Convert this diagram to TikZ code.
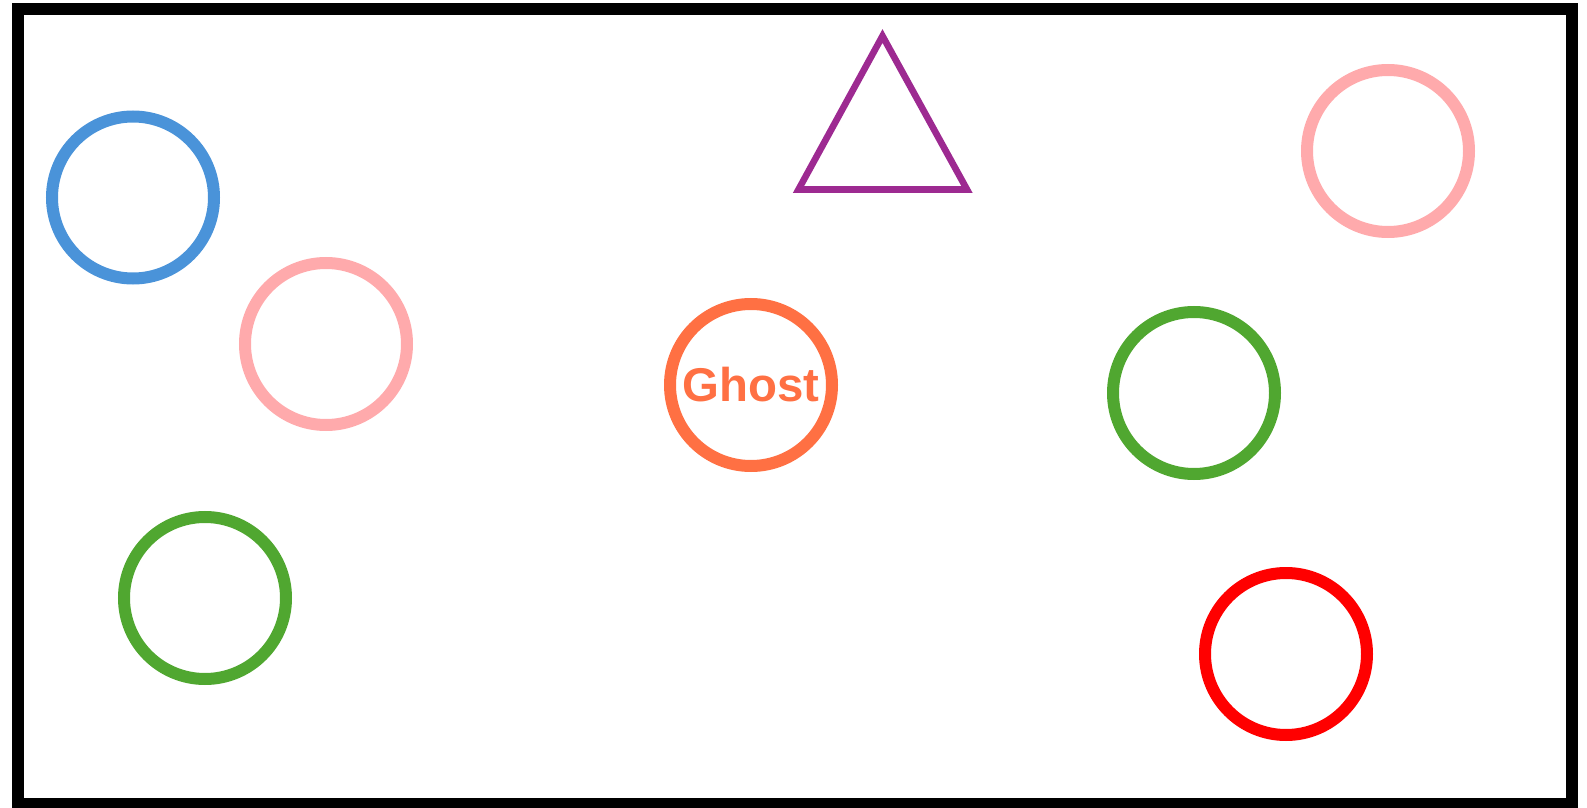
\documentclass[tikz,border=0pt]{standalone}
\usepackage{fontspec}
\setmainfont{Liberation Sans}
\definecolor{ringblue}{RGB}{74,147,217}
\definecolor{ringpink}{RGB}{255,170,172}
\definecolor{ringgreen}{RGB}{80,167,48}
\definecolor{ringred}{RGB}{255,0,0}
\definecolor{ghostorange}{RGB}{255,112,67}
\definecolor{triviolet}{RGB}{157,42,145}
\begin{document}
\begin{tikzpicture}[x=0.5pt, y=-0.5pt,
  ring/.style={draw=#1, circle, line width=6pt, minimum size=81pt, inner sep=0pt},
  ghostlabel/.style={font=\bfseries\fontsize{23.7}{28}\selectfont, text=ghostorange}]
\useasboundingbox (0,0) rectangle (1587,808);
\draw[line width=6pt] (18,9) rectangle (1572,803.5);
\node[ring=ringblue] (blue1) at (133,197.5) {};
\node[ring=ringpink] (pink1) at (326,344) {};
\node[ring=ringpink] (pink2) at (1388,151) {};
\node[ring=ringgreen] (green1) at (1194,393) {};
\node[ring=ringgreen] (green2) at (205,598) {};
\node[ring=ringred] (red1) at (1286,654) {};
\node[ring=ghostorange, ghostlabel] (ghost) at (751,385) {Ghost\hspace{3pt}};
\draw[triviolet, line width=3.3pt] (882.5,36) -- (967,189.5) -- (798.5,189.5) -- cycle;
\end{tikzpicture}
\end{document}
